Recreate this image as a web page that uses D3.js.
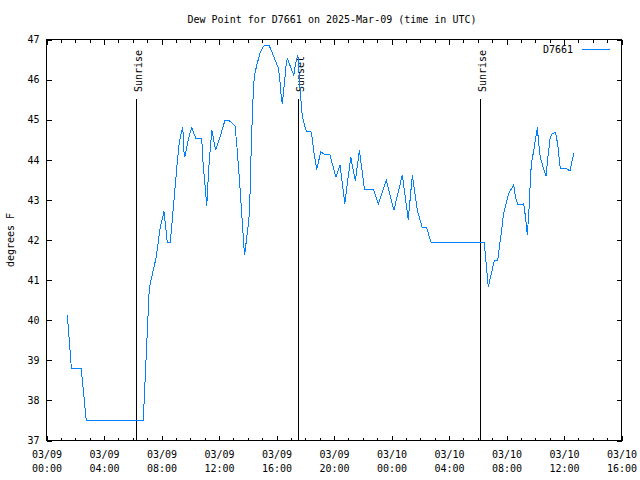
<!DOCTYPE html>
<html><head><meta charset="utf-8">
<script src="https://cdn.jsdelivr.net/npm/d3@7"></script>
<style>
html,body{margin:0;padding:0;background:#fff;}
text{font-family:"DejaVu Sans Mono","Liberation Mono",monospace;font-size:10px;fill:#000;}
</style></head>
<body><svg id="c" width="640" height="480"></svg>
<script>
// minutes after 2025-03-09 00:00 UTC
const times = [87,104,145,166,404,429,446,458,475,487,
490,504,517,535,544,552,560,569,573,577,
594,606,623,648,652,669,677,690,706,731,
744,759,780,787,795,808,824,827,836,844,
848,854,858,862,866,870,879,891,904,908,
930,940,954,968,972,980,984,993,1001,1005,
1032,1040,1049,1057,1065,1069,1078,1086,1104,1108,
1117,1128,1145,1165,1183,1208,1225,1245,1270,1289,
1306,1327,1364,1385,1418,1450,1485,1510,1527,1548,
1569,1587,1604,1608,1827,1844,1869,1883,1896,1908,
1929,1950,1958,1967,1990,1994,2003,2007,2014,2021,
2025,2034,2042,2049,2053,2061,2070,2085,2093,2102,
2110,2125,2134,2142,2145,2171,2185,2193,2202];
const dewPoint = [40.12,38.79,38.79,37.5,37.5,40.8,41.26,41.57,42.33,42.62,
42.73,41.95,41.95,43.2,43.82,44.32,44.62,44.81,44.24,44.07,
44.56,44.8,44.54,44.54,44.03,42.85,43.78,44.74,44.24,44.7,
44.97,44.99,44.89,44.84,44.32,43.28,41.83,41.62,42.08,42.45,
42.83,44.16,44.91,45.53,45.95,46.16,46.39,46.66,46.82,46.84,
46.84,46.7,46.49,46.28,46.11,45.57,45.4,45.9,46.41,46.53,
46.11,46.41,46.61,45.9,45.24,45.07,44.84,44.7,44.7,44.57,
44.16,43.76,44.2,44.12,44.12,43.57,43.87,42.91,44.07,43.47,
44.24,43.27,43.27,42.89,43.49,42.74,43.62,42.51,43.62,42.74,
42.3,42.3,41.95,41.94,41.94,40.83,41.48,41.48,42.08,42.66,
43.16,43.37,43.06,42.88,42.9,42.83,42.37,42.12,42.79,43.66,
43.95,44.24,44.56,44.81,44.49,44.07,43.87,43.59,44.07,44.53,
44.65,44.68,44.37,43.91,43.78,43.78,43.72,43.95,44.17];
const eventTimes = [375,1051,1811];
const eventLabels = ["Sunrise","Sunset","Sunrise"];
const yTicks = [37,38,39,40,41,42,43,44,45,46,47];
const title = "Dew Point for D7661 on 2025-Mar-09 (time in UTC)";
const seriesName = "D7661";
const yLabel = "degrees F";

const t0 = Date.UTC(2025,2,9,0,0);
const toDate = m => new Date(t0 + m*60000);
const svg = d3.select("#c");
const L=46.5, R=621.5, T=39.5, B=440.5;
const x = d3.scaleUtc().domain([new Date(t0), new Date(Date.UTC(2025,2,10,16,0))]).range([L,R]);
const y = d3.scaleLinear().domain([37,47]).range([B,T]);

const minor = d3.utcHour.every(1).range(x.domain()[0], x.domain()[1]);
const major = d3.utcHour.every(4).range(x.domain()[0], new Date(x.domain()[1].getTime()+1));
svg.append("g").attr("transform",`translate(0,${B})`)
  .call(d3.axisBottom(x).tickValues(minor).tickSizeInner(-3).tickSizeOuter(0).tickFormat(""));
svg.append("g").attr("transform",`translate(0,${T})`)
  .call(d3.axisTop(x).tickValues(minor).tickSizeInner(-3).tickSizeOuter(0).tickFormat(""));
const fmtD = d3.utcFormat("%m/%d"), fmtH = d3.utcFormat("%H:%M");
const gxM = svg.append("g").attr("transform",`translate(0,${B})`)
  .call(d3.axisBottom(x).tickValues(major).tickSizeInner(-5).tickSizeOuter(0).tickPadding(0).tickFormat(""));
svg.append("g").attr("transform",`translate(0,${T})`)
  .call(d3.axisTop(x).tickValues(major).tickSizeInner(-5).tickSizeOuter(0).tickFormat(""));
gxM.selectAll(".tick").append("text").attr("text-anchor","middle")
  .each(function(d){
    const t=d3.select(this);
    t.append("tspan").attr("x",0).attr("y",17).text(fmtD(d));
    t.append("tspan").attr("x",0).attr("y",31).text(fmtH(d));
  });
const gy = svg.append("g").attr("transform",`translate(${L},0)`)
  .call(d3.axisLeft(y).tickValues(yTicks).tickSizeInner(-5).tickSizeOuter(0).tickPadding(8).tickFormat(d3.format("d")));
svg.append("g").attr("transform",`translate(${R},0)`)
  .call(d3.axisRight(y).tickValues(yTicks).tickSizeInner(-5).tickSizeOuter(0).tickFormat(""));
svg.selectAll(".domain").remove();
svg.selectAll(".tick line").attr("stroke","#000").attr("shape-rendering","crispEdges");
gy.selectAll("text").attr("x",-7);
svg.selectAll("g").attr("font-size",null).attr("font-family",null);

svg.append("rect").attr("x",L).attr("y",T).attr("width",R-L).attr("height",B-T)
  .attr("fill","none").attr("stroke","#000").attr("shape-rendering","crispEdges");

eventTimes.forEach((m,i)=>{
  const ex = Math.round(x(toDate(m)))+0.5;
  svg.append("line").attr("x1",ex).attr("x2",ex).attr("y1",99).attr("y2",B)
    .attr("stroke","#000").attr("shape-rendering","crispEdges");
  svg.append("text").attr("transform",`translate(${ex+5},92) rotate(-90)`)
    .attr("text-anchor","start").text(eventLabels[i]);
});

const data = times.map((m,i)=>({t:toDate(m), v:dewPoint[i]}));
svg.append("path").datum(data)
  .attr("d", d3.line().x(d=>x(d.t)).y(d=>y(d.v)))
  .attr("fill","none").attr("stroke","#0080ff").attr("stroke-width",1)
  .attr("shape-rendering","crispEdges");

svg.append("text").attr("x",332).attr("y",23).attr("text-anchor","middle").text(title);
svg.append("text").attr("transform","translate(14,240) rotate(-90)").attr("text-anchor","middle").text(yLabel);
svg.append("text").attr("x",573).attr("y",53).attr("text-anchor","end").text(seriesName);
svg.append("line").attr("x1",582).attr("x2",610).attr("y1",49.5).attr("y2",49.5)
  .attr("stroke","#0080ff").attr("shape-rendering","crispEdges");
</script></body></html>
